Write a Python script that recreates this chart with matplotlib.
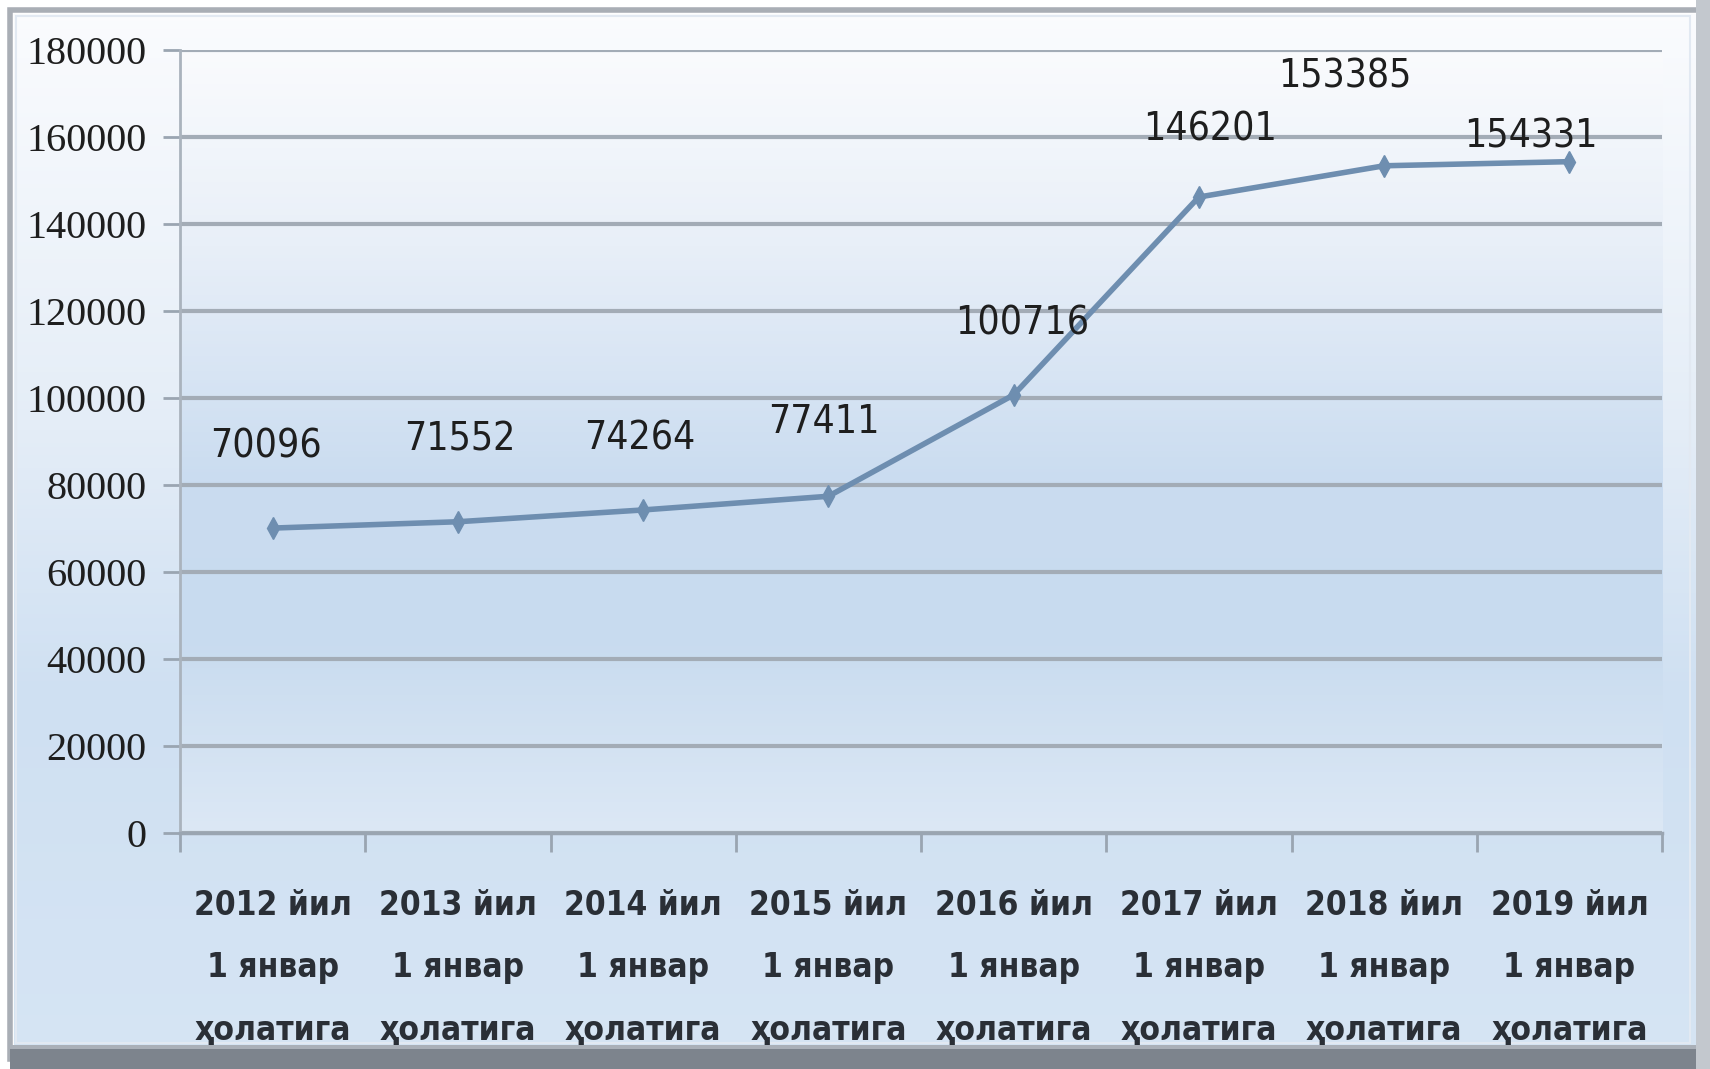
import numpy as np
import matplotlib
matplotlib.use("Agg")
import matplotlib.pyplot as plt
from matplotlib.colors import LinearSegmentedColormap
from matplotlib.patches import Rectangle

# ---- data ----
categories = ["2012 йил\n1 январ\nҳолатига", "2013 йил\n1 январ\nҳолатига",
              "2014 йил\n1 январ\nҳолатига", "2015 йил\n1 январ\nҳолатига",
              "2016 йил\n1 январ\nҳолатига", "2017 йил\n1 январ\nҳолатига",
              "2018 йил\n1 январ\nҳолатига", "2019 йил\n1 январ\nҳолатига"]
values = [70096, 71552, 74264, 77411, 100716, 146201, 153385, 154331]
yticks = [0, 20000, 40000, 60000, 80000, 100000, 120000, 140000, 160000, 180000]

# label offsets in pixels (dx, dy)
label_offsets = [(-7, 82), (2, 82), (-3, 71), (-5, 74), (8, 71), (11, 68), (-39, 89), (-39, 25)]

W, H = 1710, 1069
fig = plt.figure(figsize=(W / 100, H / 100), dpi=100)

# figure background gradient
bg = fig.add_axes([0, 0, 1, 1], zorder=-10)
bg.set_axis_off()
cmap_bg = LinearSegmentedColormap.from_list(
    "bg", [(0.0, "#d6e5f4"), (0.35, "#cfe0f2"), (0.6, "#e4edf7"), (1.0, "#fbfcfe")])
grad = np.linspace(0, 1, 256).reshape(-1, 1)
bg.imshow(grad, aspect="auto", cmap=cmap_bg, extent=[0, 1, 0, 1], origin="lower")
bg.set_xlim(0, 1)
bg.set_ylim(0, 1)
# outer frame
bg.add_patch(Rectangle((0, 0), 1, 1, fill=False, ec="white", lw=20))
bg.add_patch(Rectangle((10 / W, 10 / H), 1 - 20 / W, 1 - 20 / H, fill=False, ec="#a9aeb5", lw=4))
bg.add_patch(Rectangle((10 / W, 0), 1 - 10 / W, 20 / H, fc="#7d848d", ec="none"))
bg.add_patch(Rectangle((10 / W, 20 / H), 1 - 10 / W, 4 / H, fc="#aab0b8", ec="none"))
bg.add_patch(Rectangle((1 - 14 / W, 0), 14 / W, 1, fc="#c3c8ce", ec="none"))
bg.add_patch(Rectangle((16 / W, 26 / H), 1 - 36 / W, 1 - 42 / H, fill=False, ec="#e2e9f2", lw=1.5))

ax = fig.add_axes([180 / W, 1 - 833 / H, (1662 - 180) / W, (833 - 50) / H])
cmap_ax = LinearSegmentedColormap.from_list(
    "ax", [(0.0, "#dce8f5"), (0.25, "#c8dbef"), (0.45, "#cadcf0"), (0.75, "#e8eff8"), (1.0, "#fafbfd")])
ax.imshow(grad, aspect="auto", cmap=cmap_ax, extent=[0, 1, 0, 1], origin="lower",
          transform=ax.transAxes, zorder=0)

x = np.arange(len(values))
ax.set_xlim(-0.5, len(values) - 0.5)
ax.set_ylim(0, 180000)
ax.set_yticks(yticks)
ax.set_yticklabels([str(t) for t in yticks], family="Liberation Serif", fontsize=29, color="#1e1e1e")
ax.grid(axis="y", color="#a3acb6", lw=3, zorder=1)
ax.set_axisbelow(True)

ax.plot(x, values, color="#6e8eb0", lw=4, marker="d", ms=11, mfc="#6e8eb0", mec="#6e8eb0", zorder=3)

for xi, v, (dx, dy) in zip(x, values, label_offsets):
    ax.annotate(str(v), (xi, v), xytext=(dx, dy), textcoords="offset pixels",
                ha="center", va="center", fontsize=28, family="DejaVu Sans", fontstretch="condensed",
                color="#1e1e1e", zorder=4)

# category ticks between categories
ax.set_xticks(np.arange(-0.5, len(values), 1.0))
ax.set_xticklabels([])
ax.set_xticks(x, minor=True)
ax.set_xticklabels(categories, minor=True, family="DejaVu Sans", fontstretch="condensed",
                   fontsize=24, fontweight="bold", color="#2a2f36", linespacing=2.15)
ax.tick_params(axis="x", which="minor", length=0, pad=40)
ax.tick_params(axis="x", which="major", length=14, width=2, color="#9aa5b1")
ax.tick_params(axis="y", length=12, width=2, color="#9aa5b1", pad=12)

for s in ["top", "right"]:
    ax.spines[s].set_visible(False)
ax.spines["left"].set_color("#aab3bd")
ax.spines["left"].set_linewidth(2)
ax.spines["bottom"].set_color("#9aa5b1")
ax.spines["bottom"].set_linewidth(2.5)

fig.savefig("out.png", dpi=100)
